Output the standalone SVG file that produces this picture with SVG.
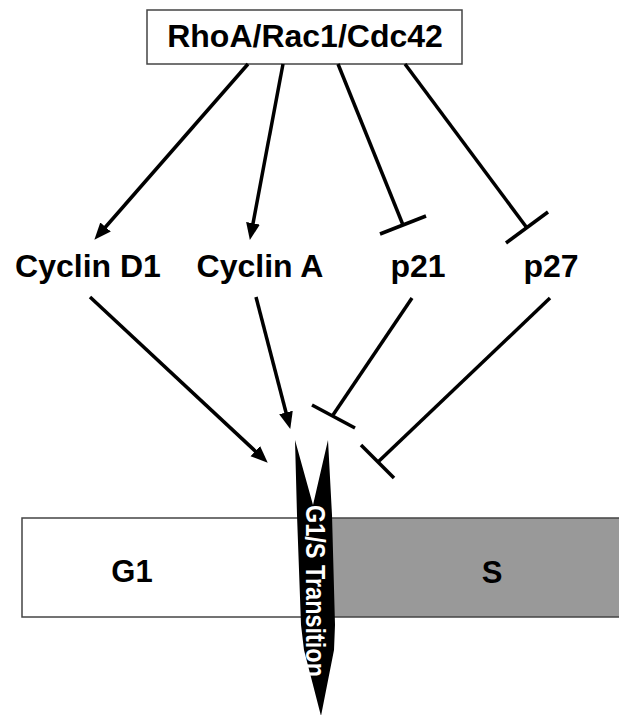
<svg xmlns="http://www.w3.org/2000/svg" width="619" height="715" viewBox="0 0 619 715">
<style>
.lbl{font-family:"Liberation Sans",Arial,sans-serif;font-weight:bold;fill:#000;text-anchor:middle}
.edge{stroke:#000;stroke-width:3.5;fill:none}
.box{stroke:#444;stroke-width:1.5}
</style>
<defs>
<marker id="arr" markerUnits="userSpaceOnUse" markerWidth="19" markerHeight="15" refX="6" refY="7" orient="auto">
<path d="M0,0 L17,7 L0,14 Z" fill="#000"/>
</marker>
</defs>
<rect width="619" height="715" fill="#fff"/>
<g id="phases">
<rect class="box" x="22" y="518" width="300" height="99" fill="#fff"/>
<rect class="box" x="320" y="518" width="310" height="99" fill="#999"/>
<text class="lbl" x="132" y="582" font-size="31">G1</text>
<text class="lbl" x="492" y="583" font-size="31">S</text>
</g>
<g id="transition">
<path d="M295,440 L313,505 L328,440 L332,515 L335,625 L334,650 L321,716 L304,650 L301,625 L297,515 Z" fill="#000"/>
<text class="lbl" transform="translate(306,591) rotate(90)" font-size="27" style="fill:#fff" textLength="172" lengthAdjust="spacingAndGlyphs">G1/S Transition</text>
</g>
<g id="rho">
<rect class="box" x="147" y="10" width="315" height="54" fill="#fff"/>
<text class="lbl" x="305" y="47" font-size="32">RhoA/Rac1/Cdc42</text>
</g>
<g id="cyclinD1"><text class="lbl" x="88" y="277" font-size="32">Cyclin D1</text></g>
<g id="cyclinA"><text class="lbl" x="260" y="277" font-size="32">Cyclin A</text></g>
<g id="p21"><text class="lbl" x="418" y="277" font-size="32">p21</text></g>
<g id="p27"><text class="lbl" x="551" y="277" font-size="32">p27</text></g>
<g id="connectors">
<line class="edge" x1="248" y1="64" x2="101.6" y2="231.5" marker-end="url(#arr)"/>
<line class="edge" x1="283" y1="64" x2="251.9" y2="229.2" marker-end="url(#arr)"/>
<line class="edge" x1="338" y1="64" x2="403" y2="225"/>
<line class="edge" x1="380" y1="234" x2="426" y2="216"/>
<line class="edge" x1="405" y1="64" x2="527" y2="228"/>
<line class="edge" x1="506" y1="243" x2="548" y2="212"/>
<line class="edge" x1="90" y1="297" x2="259.7" y2="455.2" marker-end="url(#arr)"/>
<line class="edge" x1="256" y1="297" x2="287.5" y2="418.3" marker-end="url(#arr)"/>
<line class="edge" x1="412" y1="298" x2="333" y2="415"/>
<line class="edge" x1="312" y1="405" x2="355" y2="428"/>
<line class="edge" x1="550" y1="298" x2="378" y2="462"/>
<line class="edge" x1="361" y1="445" x2="394" y2="478"/>
</g>
</svg>
